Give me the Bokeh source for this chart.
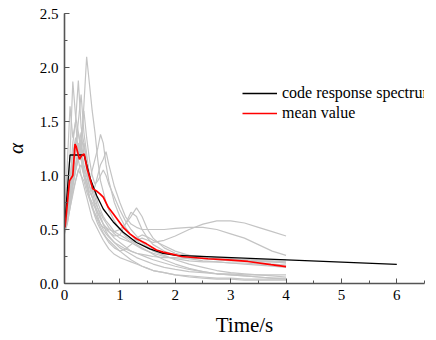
from bokeh.plotting import figure
from bokeh.models import Range1d, Legend, LegendItem, SingleIntervalTicker, NumeralTickFormatter
from bokeh.embed import file_html
from bokeh.resources import INLINE

# ---- data ----
gray_t = [0, 0.05, 0.1, 0.15, 0.2, 0.25, 0.3, 0.35, 0.4, 0.45, 0.5, 0.55, 0.6, 0.65, 0.7, 0.75, 0.8,
          0.9, 1.0, 1.1, 1.2, 1.3, 1.4, 1.5, 1.6, 1.8, 2.0, 2.25, 2.5, 2.75, 3.0, 3.25, 3.5, 3.75, 4.0]
g1 = [0.52, 0.62, 0.80, 0.95, 1.05, 1.15, 1.25, 1.65, 2.10, 1.85, 1.60, 1.40, 1.15, 0.95, 0.85, 0.75, 0.68,
      0.58, 0.50, 0.44, 0.40, 0.36, 0.33, 0.30, 0.27, 0.22, 0.18, 0.14, 0.11, 0.09, 0.08, 0.07, 0.06, 0.05, 0.05]
g2 = [0.50, 0.75, 1.20, 1.87, 1.55, 1.40, 1.20, 1.05, 0.95, 0.85, 0.80, 0.72, 0.65, 0.60, 0.55, 0.52, 0.48,
      0.42, 0.38, 0.34, 0.30, 0.28, 0.26, 0.24, 0.22, 0.19, 0.16, 0.13, 0.11, 0.09, 0.08, 0.07, 0.06, 0.05, 0.04]
g3 = [0.55, 0.70, 0.95, 1.30, 1.50, 1.88, 1.45, 1.30, 1.10, 0.95, 0.90, 0.85, 0.75, 0.68, 0.62, 0.58, 0.55,
      0.48, 0.45, 0.42, 0.38, 0.35, 0.32, 0.30, 0.28, 0.25, 0.23, 0.21, 0.20, 0.20, 0.19, 0.19, 0.18, 0.18, 0.17]
g4 = [0.60, 1.10, 1.64, 1.35, 1.50, 1.20, 1.30, 1.00, 0.95, 0.80, 0.75, 0.70, 0.62, 0.55, 0.50, 0.46, 0.43,
      0.38, 0.35, 0.32, 0.30, 0.28, 0.27, 0.26, 0.25, 0.24, 0.24, 0.23, 0.23, 0.22, 0.22, 0.22, 0.21, 0.21, 0.20]
g5 = [0.48, 0.60, 0.80, 0.95, 1.10, 1.20, 1.15, 1.05, 1.00, 0.95, 1.05, 1.15, 1.25, 1.38, 1.30, 1.10, 0.95,
      0.75, 0.62, 0.52, 0.45, 0.40, 0.36, 0.33, 0.30, 0.26, 0.22, 0.18, 0.15, 0.12, 0.10, 0.09, 0.08, 0.07, 0.06]
g6 = [0.52, 0.65, 0.90, 1.10, 1.30, 1.40, 1.25, 1.10, 1.00, 0.90, 0.85, 0.90, 1.00, 1.10, 1.15, 1.22, 1.10,
      0.90, 0.75, 0.62, 0.55, 0.52, 0.50, 0.50, 0.50, 0.50, 0.51, 0.52, 0.52, 0.50, 0.46, 0.42, 0.36, 0.30, 0.26]
g7 = [0.50, 0.65, 0.85, 1.00, 1.20, 1.30, 1.15, 1.00, 0.90, 0.80, 0.70, 0.65, 0.60, 0.55, 0.52, 0.50, 0.48,
      0.44, 0.45, 0.55, 0.62, 0.70, 0.62, 0.50, 0.42, 0.33, 0.28, 0.25, 0.23, 0.22, 0.21, 0.21, 0.20, 0.20, 0.19]
g8 = [0.50, 0.60, 0.75, 0.90, 1.05, 1.15, 1.00, 0.95, 0.85, 0.78, 0.70, 0.62, 0.55, 0.50, 0.46, 0.42, 0.38,
      0.33, 0.30, 0.32, 0.36, 0.40, 0.42, 0.40, 0.38, 0.40, 0.44, 0.50, 0.55, 0.58, 0.58, 0.56, 0.52, 0.48, 0.44]
g9 = [0.46, 0.55, 0.70, 0.85, 0.95, 1.05, 1.00, 0.90, 0.80, 0.70, 0.60, 0.55, 0.50, 0.45, 0.40, 0.36, 0.32,
      0.27, 0.24, 0.22, 0.20, 0.18, 0.16, 0.14, 0.12, 0.10, 0.08, 0.07, 0.06, 0.05, 0.05, 0.04, 0.04, 0.04, 0.04]
g10 = [0.55, 0.70, 0.95, 1.20, 1.35, 1.25, 1.40, 1.20, 1.05, 0.90, 0.80, 0.72, 0.66, 0.60, 0.55, 0.52, 0.50,
       0.48, 0.50, 0.55, 0.66, 0.62, 0.50, 0.42, 0.36, 0.30, 0.26, 0.23, 0.21, 0.20, 0.19, 0.18, 0.17, 0.16, 0.15]
g11 = [0.50, 0.65, 0.85, 1.05, 1.25, 1.50, 1.75, 1.40, 1.20, 1.00, 0.85, 0.75, 0.70, 0.65, 0.60, 0.56, 0.52,
       0.46, 0.42, 0.40, 0.38, 0.42, 0.45, 0.43, 0.40, 0.35, 0.30, 0.26, 0.24, 0.23, 0.22, 0.22, 0.22, 0.22, 0.22]
g12 = [0.52, 0.62, 0.78, 0.95, 1.10, 1.25, 1.15, 1.30, 1.15, 1.00, 0.90, 0.80, 0.70, 0.62, 0.55, 0.48, 0.44,
       0.38, 0.33, 0.30, 0.27, 0.24, 0.22, 0.20, 0.18, 0.15, 0.13, 0.11, 0.10, 0.09, 0.09, 0.08, 0.08, 0.08, 0.08]
g13 = [0.50, 0.58, 0.72, 0.90, 1.05, 1.20, 1.35, 1.60, 1.35, 1.15, 1.00, 0.92, 0.95, 1.00, 1.05, 1.00, 0.92,
       0.80, 0.68, 0.58, 0.50, 0.44, 0.38, 0.34, 0.31, 0.28, 0.27, 0.26, 0.25, 0.24, 0.23, 0.22, 0.21, 0.20, 0.19]
g14 = [0.48, 0.56, 0.70, 0.82, 0.95, 1.05, 1.10, 1.00, 0.90, 0.80, 0.72, 0.64, 0.58, 0.52, 0.47, 0.43, 0.40,
       0.35, 0.30, 0.26, 0.22, 0.19, 0.16, 0.14, 0.12, 0.10, 0.08, 0.06, 0.05, 0.04, 0.04, 0.03, 0.03, 0.03, 0.03]
gray_series = [g1, g2, g3, g4, g5, g6, g7, g8, g9, g10, g11, g12, g13, g14]

code_t = [0, 0.1, 0.355, 0.46, 0.58, 0.70, 0.88, 1.06, 1.30, 1.54, 1.78, 2.02, 6.0]
code_a = [0.52, 1.19, 1.19, 0.98, 0.815, 0.69, 0.57, 0.475, 0.38, 0.32, 0.28, 0.26, 0.178]

mean_t = [0.01, 0.09, 0.15, 0.19, 0.21, 0.27, 0.31, 0.355, 0.41, 0.46, 0.51, 0.57, 0.64, 0.70, 0.79,
          0.88, 0.97, 1.06, 1.18, 1.30, 1.48, 1.66, 1.78, 2.0, 2.11, 2.59, 2.95, 3.31, 3.73, 4.0]
mean_a = [0.52, 0.95, 1.0, 1.29, 1.27, 1.15, 1.185, 1.2, 1.06, 0.97, 0.877, 0.86, 0.83, 0.80, 0.706,
          0.645, 0.583, 0.52, 0.46, 0.414, 0.367, 0.31, 0.29, 0.265, 0.25, 0.229, 0.219, 0.204, 0.175, 0.157]

x_ticks = [0, 1, 2, 3, 4, 5, 6]
y_ticks = [0.0, 0.5, 1.0, 1.5, 2.0, 2.5]

# ---- figure ----
p = figure(width=430, height=340, output_backend="svg", toolbar_location=None,
           x_range=Range1d(0, 6.5), y_range=Range1d(0, 2.5),
           min_border_left=63, min_border_right=6, min_border_top=13, min_border_bottom=57)
p.outline_line_color = None
p.grid.visible = False
p.background_fill_color = "white"

for g in gray_series:
    p.line(gray_t, g, line_color="#c4c4c4", line_width=1.2)

r_code = p.line(code_t, code_a, line_color="black", line_width=1.3)
r_mean = p.line(mean_t, mean_a, line_color="#ff0000", line_width=1.7)

font = "Liberation Serif"
for ax in (p.xaxis[0], p.yaxis[0]):
    ax.axis_line_color = "#555555"
    ax.axis_line_width = 1.6
    ax.major_tick_line_color = "#555555"
    ax.minor_tick_line_color = "#555555"
    ax.major_tick_in = 5
    ax.major_tick_out = 0
    ax.minor_tick_in = 3
    ax.minor_tick_out = 0
    ax.major_label_text_font = font
    ax.major_label_text_font_size = "15px"
    ax.major_label_text_color = "black"
    ax.axis_label_text_font = font
    ax.axis_label_text_color = "black"
    ax.axis_label_text_font_style = "normal"

p.xaxis[0].ticker = SingleIntervalTicker(interval=1, num_minor_ticks=2)
p.yaxis[0].ticker = SingleIntervalTicker(interval=0.5, num_minor_ticks=2)
p.xaxis[0].major_label_overrides = {v: str(v) for v in x_ticks}
p.yaxis[0].formatter = NumeralTickFormatter(format="0.0")
p.xaxis[0].major_label_standoff = 6
p.yaxis[0].major_label_standoff = 6
p.xaxis[0].axis_label = "Time/s"
p.xaxis[0].axis_label_text_font_size = "21px"
p.xaxis[0].axis_label_standoff = 10
p.yaxis[0].axis_label = "α"
p.yaxis[0].axis_label_text_font_size = "21px"
p.yaxis[0].axis_label_text_font_style = "italic"
p.yaxis[0].axis_label_standoff = 9

legend = Legend(items=[LegendItem(label="code response spectrum", renderers=[r_code]),
                       LegendItem(label="mean value", renderers=[r_mean])],
                location=(178, 160))
legend.background_fill_alpha = 0
legend.border_line_color = None
legend.padding = 0
legend.margin = 0
legend.spacing = 0
legend.glyph_width = 35
legend.glyph_height = 20
legend.label_height = 20
legend.label_standoff = 5
legend.label_text_font = font
legend.label_text_font_size = "16px"
legend.label_text_color = "black"
p.add_layout(legend, "center")

open("out.html", "w").write(file_html(p, INLINE))
